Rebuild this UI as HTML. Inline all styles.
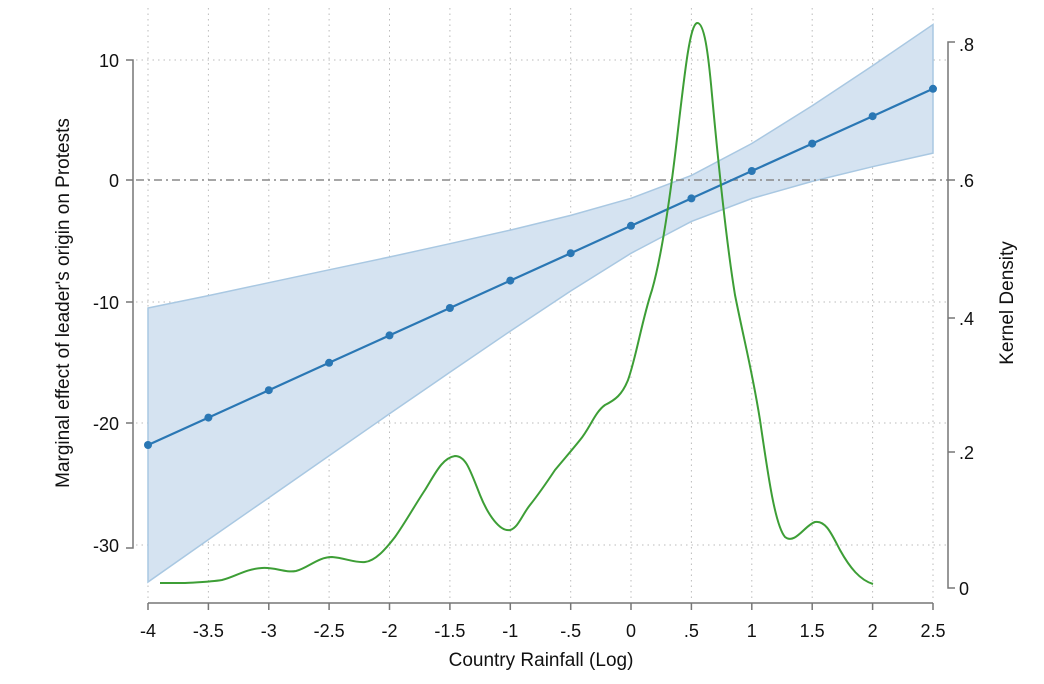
<!DOCTYPE html>
<html><head><meta charset="utf-8"><style>html,body{margin:0;padding:0;background:#fff}svg{display:block}text{font-family:"Liberation Sans",Arial,sans-serif;fill:#111}</style></head><body>
<svg width="1044" height="684" viewBox="0 0 1044 684" xmlns="http://www.w3.org/2000/svg">
<g stroke="#bbb" stroke-width="1" stroke-dasharray="1.5 4">
<line x1="148" y1="8" x2="148" y2="600"/><line x1="208.4" y1="8" x2="208.4" y2="600"/><line x1="268.8" y1="8" x2="268.8" y2="600"/><line x1="329.1" y1="8" x2="329.1" y2="600"/><line x1="389.5" y1="8" x2="389.5" y2="600"/><line x1="449.9" y1="8" x2="449.9" y2="600"/><line x1="510.3" y1="8" x2="510.3" y2="600"/><line x1="570.7" y1="8" x2="570.7" y2="600"/><line x1="631" y1="8" x2="631" y2="600"/><line x1="691.4" y1="8" x2="691.4" y2="600"/><line x1="751.8" y1="8" x2="751.8" y2="600"/><line x1="812.2" y1="8" x2="812.2" y2="600"/><line x1="872.6" y1="8" x2="872.6" y2="600"/><line x1="933" y1="8" x2="933" y2="600"/>
<line x1="136" y1="60" x2="946" y2="60"/><line x1="136" y1="302" x2="946" y2="302"/><line x1="136" y1="423" x2="946" y2="423"/><line x1="136" y1="545" x2="946" y2="545"/>
</g>
<polygon fill="#d5e3f1" stroke="#a9c8e2" stroke-width="1.5" points="148,308 208.4,295.6 268.8,282.7 329.1,269.8 389.5,257 449.9,243.7 510.3,230.1 570.7,215.4 631,198.3 691.4,175.4 751.8,143.5 812.2,105.8 872.6,65.7 933,24.5 933,153.1 872.6,166.7 812.2,181.4 751.8,198.5 691.4,221.4 631,253.3 570.7,291 510.3,331.1 449.9,372.3 389.5,413.8 329.1,455.8 268.8,497.7 208.4,539.6 148,582"/>
<line x1="136" y1="180" x2="948" y2="180" stroke="#888" stroke-width="1.5" stroke-dasharray="8 4 2 4"/>
<polyline fill="none" stroke="#2a77b4" stroke-width="2.2" points="148,445 208.4,417.6 268.8,390.2 329.1,362.8 389.5,335.4 449.9,308 510.3,280.6 570.7,253.2 631,225.8 691.4,198.4 751.8,171 812.2,143.6 872.6,116.2 933,88.8"/>
<g fill="#2a77b4"><circle cx="148" cy="445" r="4"/><circle cx="208.4" cy="417.6" r="4"/><circle cx="268.8" cy="390.2" r="4"/><circle cx="329.1" cy="362.8" r="4"/><circle cx="389.5" cy="335.4" r="4"/><circle cx="449.9" cy="308" r="4"/><circle cx="510.3" cy="280.6" r="4"/><circle cx="570.7" cy="253.2" r="4"/><circle cx="631" cy="225.8" r="4"/><circle cx="691.4" cy="198.4" r="4"/><circle cx="751.8" cy="171" r="4"/><circle cx="812.2" cy="143.6" r="4"/><circle cx="872.6" cy="116.2" r="4"/><circle cx="933" cy="88.8" r="4"/></g>
<path fill="none" stroke="#3d9e36" stroke-width="2" stroke-linejoin="round" d="M160,583 L185,583 C200,582 210,582 222,580 C235,577 245,569 262,568 C275,567 285,573 296,571 C308,568 318,557 332,557 C345,558 355,563 365,562 C375,561 385,550 395,537 C405,523 415,505 425,490 C435,474 442,458 455,456 C466,456 470,470 480,495 C488,515 500,532 510,530 C518,528 522,515 530,505 C538,495 545,485 555,470 C565,458 572,450 580,440 C590,428 595,412 605,405 C615,400 622,395 628,380 C636,358 642,320 652,290 C662,255 670,200 678,130 C685,70 690,25 697,23 C704,22 708,50 712,95 C718,160 726,240 735,295 C745,345 752,370 760,420 C768,475 775,525 785,537 C795,545 805,525 815,522 C826,520 832,535 840,550 C850,568 860,580 873,584"/>
<g stroke="#777" stroke-width="1.5" fill="none">
<path d="M126,60 H133 V548 H126 M126,180 H133 M126,302 H133 M126,423 H133"/>
<path d="M148,603 H933 M148,603 v7 M208.4,603 v7 M268.8,603 v7 M329.1,603 v7 M389.5,603 v7 M449.9,603 v7 M510.3,603 v7 M570.7,603 v7 M631,603 v7 M691.4,603 v7 M751.8,603 v7 M812.2,603 v7 M872.6,603 v7 M933,603 v7"/>
<path d="M955,42 H948 V588 H955 M948,180 H955 M948,318 H955 M948,452 H955"/>
</g>
<g font-size="18" text-anchor="end"><text x="119" y="67">10</text><text x="119" y="187">0</text><text x="119" y="309">-10</text><text x="119" y="430">-20</text><text x="119" y="552">-30</text></g>
<g font-size="18"><text x="959" y="51">.8</text><text x="959" y="187">.6</text><text x="959" y="325">.4</text><text x="959" y="459">.2</text><text x="959" y="595">0</text></g>
<g font-size="18" text-anchor="middle"><text x="148" y="637">-4</text><text x="208.4" y="637">-3.5</text><text x="268.8" y="637">-3</text><text x="329.1" y="637">-2.5</text><text x="389.5" y="637">-2</text><text x="449.9" y="637">-1.5</text><text x="510.3" y="637">-1</text><text x="570.7" y="637">-.5</text><text x="631" y="637">0</text><text x="691.4" y="637">.5</text><text x="751.8" y="637">1</text><text x="812.2" y="637">1.5</text><text x="872.6" y="637">2</text><text x="933" y="637">2.5</text></g>
<g font-size="19" text-anchor="middle">
<text x="541" y="666">Country Rainfall (Log)</text>
<text transform="translate(69,303) rotate(-90)">Marginal effect of leader's origin on Protests</text>
<text transform="translate(1013,303) rotate(-90)">Kernel Density</text></g>
</svg>
</body></html>
